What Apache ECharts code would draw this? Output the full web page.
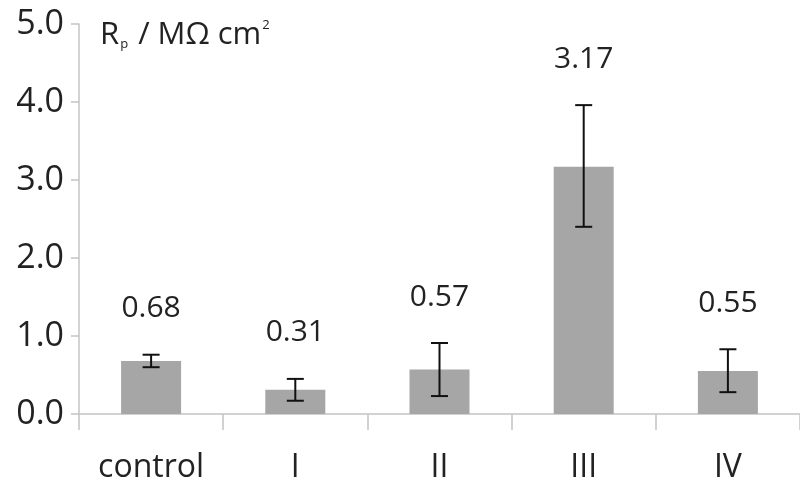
<!DOCTYPE html>
<html>
<head>
<meta charset="utf-8">
<script src="https://cdn.jsdelivr.net/npm/echarts@6/dist/echarts.min.js"></script>
<style>html,body{margin:0;padding:0;background:#fff}#c{width:800px;height:486px}</style>
</head>
<body>
<div id="c"></div>
<script>
var categories = ['control', 'I', 'II', 'III', 'IV'];
var values = [0.68, 0.31, 0.57, 3.17, 0.55];
var errLow = [0.60, 0.17, 0.23, 2.40, 0.28];
var errHigh = [0.76, 0.45, 0.91, 3.96, 0.83];
var valueLabels = ['0.68', '0.31', '0.57', '3.17', '0.55'];
var yTicks = [0, 1, 2, 3, 4, 5];

var FONT = '"Open Sans", "DejaVu Sans", sans-serif';
var chart = echarts.init(document.getElementById('c'));
var errData = categories.map(function (c, i) { return [i, errLow[i], errHigh[i], valueLabels[i]]; });

chart.setOption({
  animation: false,
  backgroundColor: '#fff',
  grid: { left: 79, top: 24, bottom: 72, width: 730 },
  title: {
    text: '{m|R}{s|p}{m| / MΩ cm}{u|2}',
    left: 95, top: 10,
    textStyle: {
      fontWeight: 'normal',
      rich: {
        m: { fontFamily: FONT, fontSize: 31, fontWeight: 'normal', color: '#222', lineHeight: 40 },
        s: { fontFamily: FONT, fontSize: 13, fontWeight: 'normal', color: '#222', padding: [18, 2, 0, 1], lineHeight: 40 },
        u: { fontFamily: FONT, fontSize: 13, fontWeight: 'normal', color: '#222', padding: [0, 0, 20, 1], lineHeight: 40 }
      }
    }
  },
  xAxis: {
    type: 'category',
    data: categories,
    axisLine: { lineStyle: { color: '#c4c4c4', width: 1.5 } },
    axisTick: { show: true, length: 16, lineStyle: { color: '#c4c4c4', width: 1.5 } },
    axisLabel: { fontFamily: FONT, fontSize: 32, color: '#222', margin: 38 }
  },
  yAxis: {
    type: 'value',
    min: 0, max: 5, interval: 1,
    splitLine: { show: false },
    axisLine: { show: true, lineStyle: { color: '#c4c4c4', width: 1.5 } },
    axisTick: { show: true, length: 8, lineStyle: { color: '#c4c4c4', width: 1.5 } },
    axisLabel: {
      fontFamily: FONT, fontSize: 34, color: '#222', margin: 15,
      formatter: function (v) { return v.toFixed(1); }
    }
  },
  series: [
    {
      type: 'bar',
      data: values,
      barWidth: 60,
      itemStyle: { color: '#a6a6a6' },
      silent: true
    },
    {
      type: 'custom',
      data: errData,
      silent: true,
      z: 10,
      renderItem: function (params, api) {
        var i = api.value(0);
        var lo = api.coord([i, api.value(1)]);
        var hi = api.coord([i, api.value(2)]);
        var half = 8.5;
        var st = { stroke: '#111', lineWidth: 2 };
        return {
          type: 'group',
          children: [
            { type: 'line', shape: { x1: lo[0], y1: lo[1], x2: hi[0], y2: hi[1] }, style: st },
            { type: 'line', shape: { x1: lo[0] - half, y1: lo[1], x2: lo[0] + half, y2: lo[1] }, style: st },
            { type: 'line', shape: { x1: hi[0] - half, y1: hi[1], x2: hi[0] + half, y2: hi[1] }, style: st },
            { type: 'text', x: hi[0], y: hi[1] - 46,
              style: { text: valueLabels[i], fontFamily: FONT, fontSize: 30, fill: '#222', align: 'center', verticalAlign: 'middle' } }
          ]
        };
      }
    }
  ]
});
</script>
</body>
</html>
